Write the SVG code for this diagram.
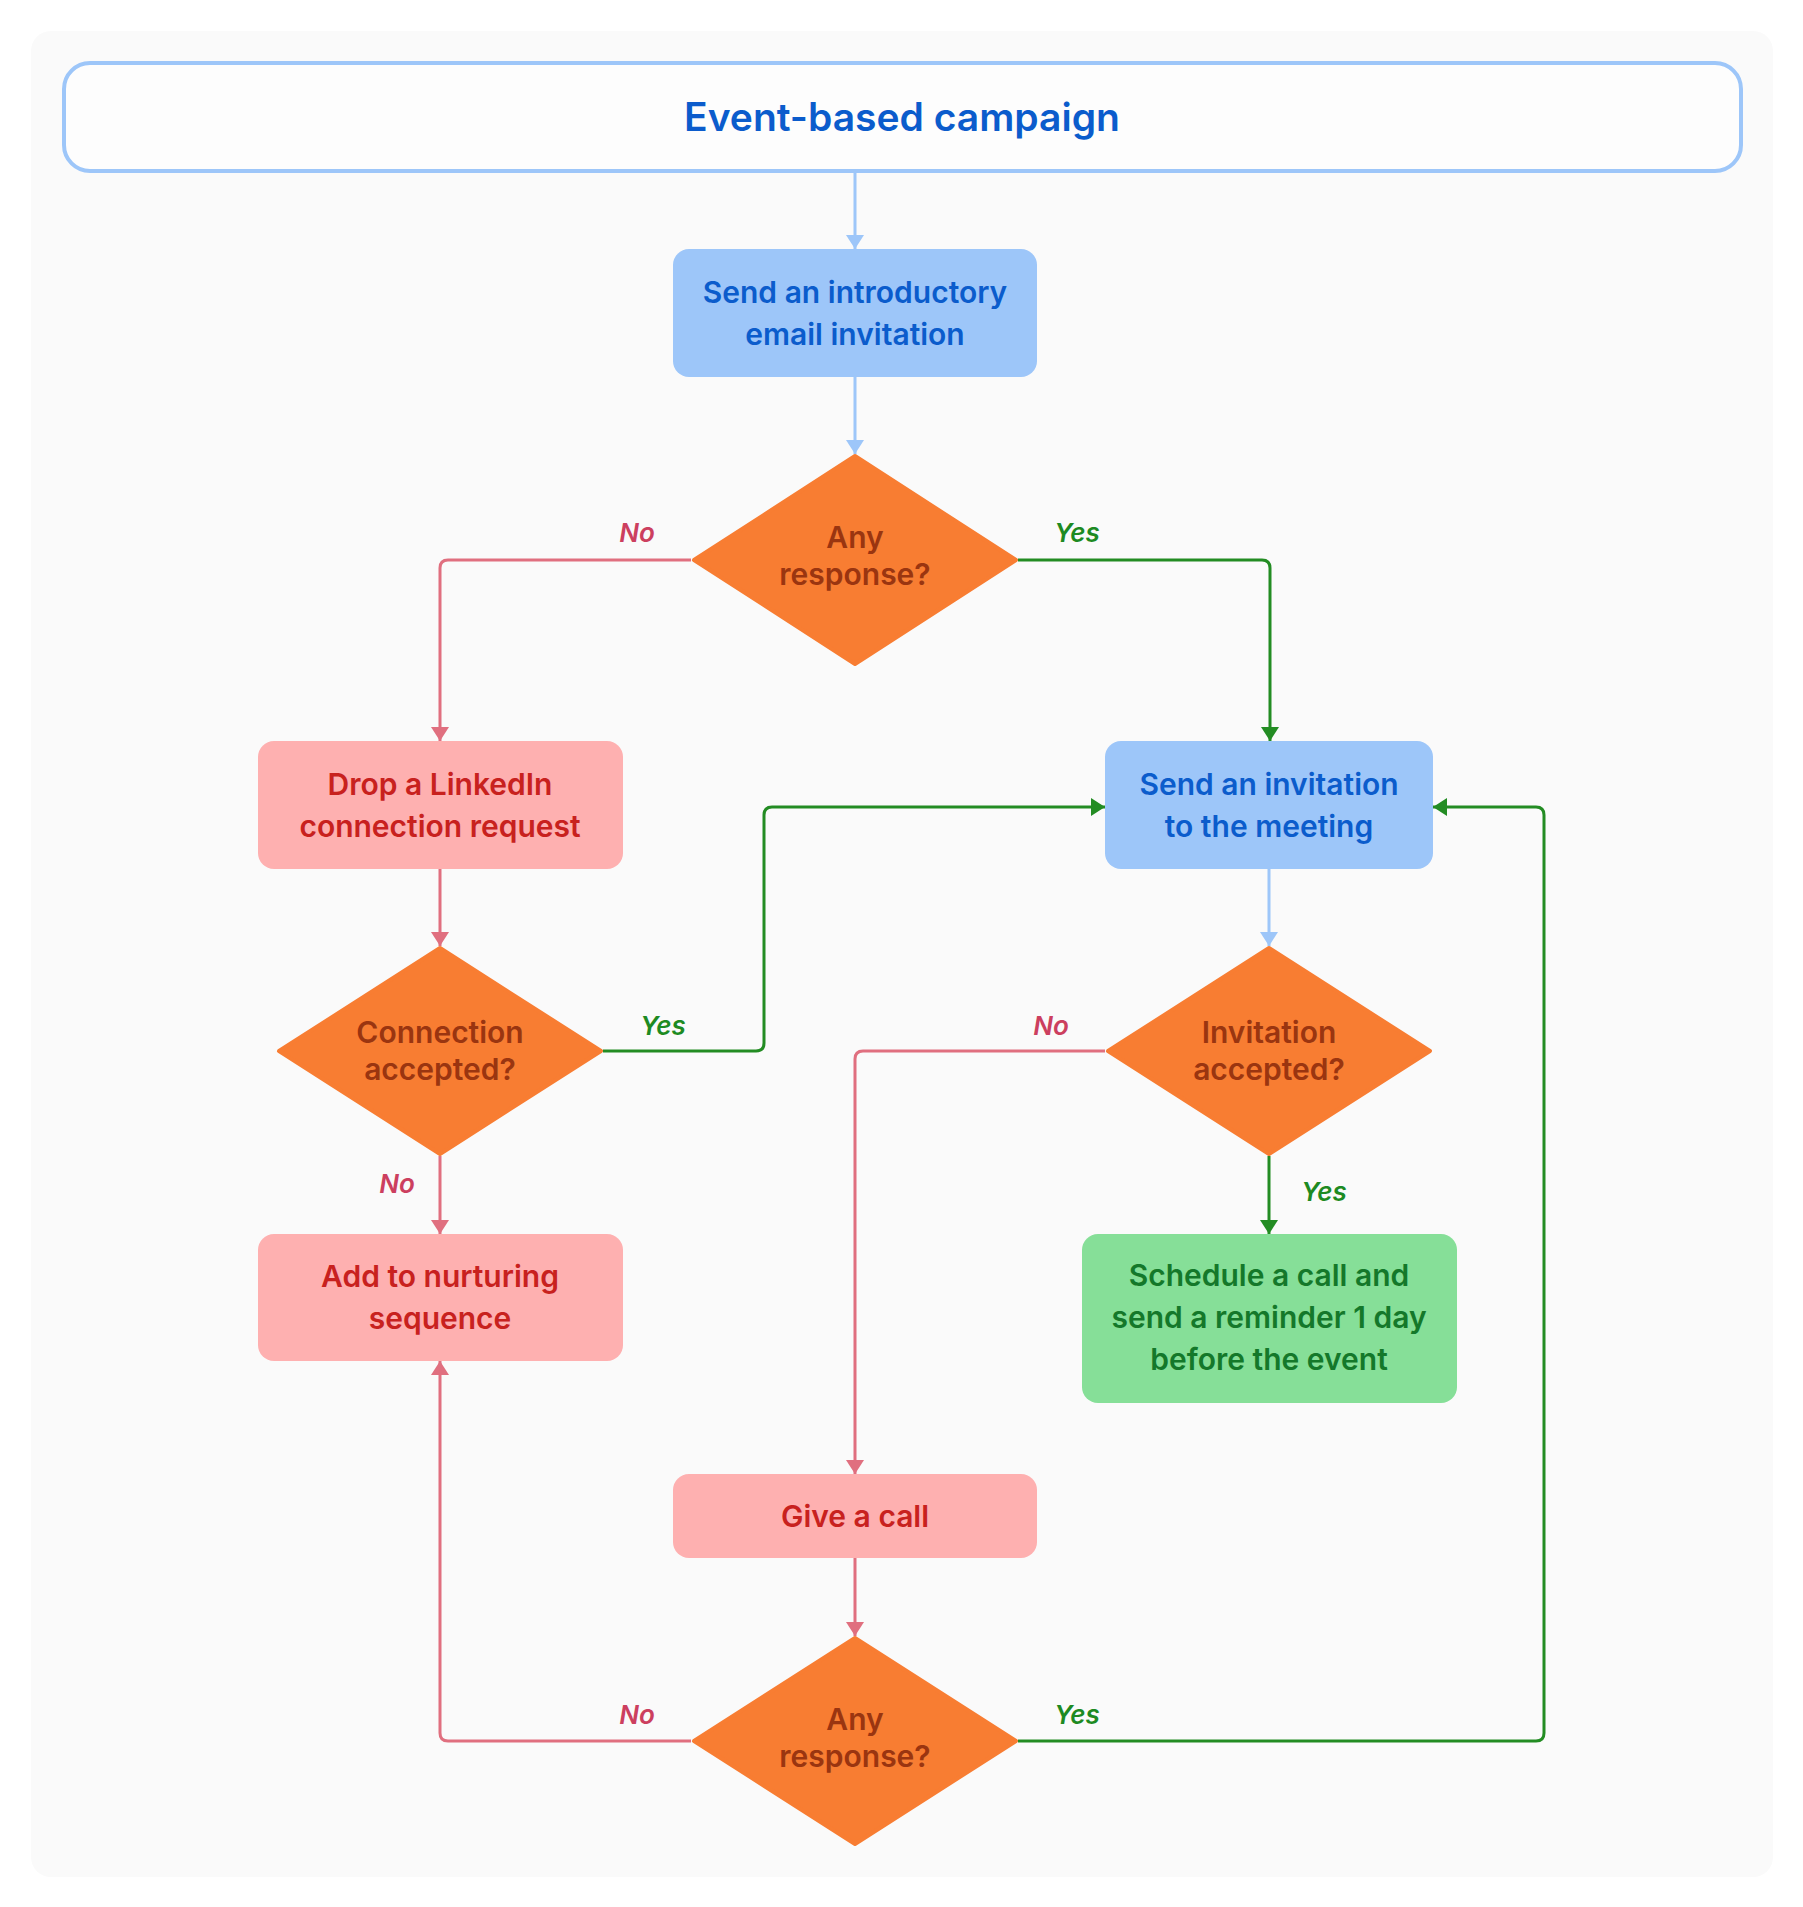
<svg xmlns="http://www.w3.org/2000/svg" width="1803" height="1907" viewBox="0 0 1803 1907">
<defs>
<style>
.t{font-family:Inter,"Noto Sans","Liberation Sans",sans-serif;font-weight:600;text-anchor:middle}
.nt{font-size:30px}
.blue{fill:#0b5ccc}
.red{fill:#c8211e}
.grn{fill:#14782a}
.brn{fill:#9a3510}
.lbl{font-size:26px;font-style:italic}
.lno{fill:#cc3f5f}
.lyes{fill:#1d8a22}
.bbox{fill:#9dc6f9}
.pbox{fill:#feb0b0}
.gbox{fill:#86df98}
.dia{fill:#f87d32;stroke:#f87d32;stroke-width:4;stroke-linejoin:round}
.c{fill:none;stroke-width:3}
.cb{stroke:#9dc6f9}
.cp{stroke:#e06f7f}
.cg{stroke:#238c23}
</style>
<marker id="ab" markerUnits="userSpaceOnUse" markerWidth="18" markerHeight="18" viewBox="0 0 14 18" refX="14" refY="9" orient="auto"><path d="M0,0 L14,9 L0,18 Z" fill="#9dc6f9"/></marker>
<marker id="ap" markerUnits="userSpaceOnUse" markerWidth="18" markerHeight="18" viewBox="0 0 14 18" refX="14" refY="9" orient="auto"><path d="M0,0 L14,9 L0,18 Z" fill="#e06f7f"/></marker>
<marker id="ag" markerUnits="userSpaceOnUse" markerWidth="18" markerHeight="18" viewBox="0 0 14 18" refX="14" refY="9" orient="auto"><path d="M0,0 L14,9 L0,18 Z" fill="#238c23"/></marker>
</defs>
<rect x="0" y="0" width="1803" height="1907" fill="#ffffff"/>
<rect x="31" y="31" width="1742" height="1846" rx="20" fill="#fafafa"/>

<g id="connectors">
<path class="c cb" d="M855,173 V249" marker-end="url(#ab)"/>
<path class="c cb" d="M855,377 V454" marker-end="url(#ab)"/>
<path class="c cp" d="M691,560 H448 Q440,560 440,568 V741" marker-end="url(#ap)"/>
<path class="c cg" d="M1018,560 H1262 Q1270,560 1270,568 V741" marker-end="url(#ag)"/>
<path class="c cp" d="M440,869 V946" marker-end="url(#ap)"/>
<path class="c cg" d="M603,1051 H756 Q764,1051 764,1043 V815 Q764,807 772,807 H1105" marker-end="url(#ag)"/>
<path class="c cb" d="M1269,869 V946" marker-end="url(#ab)"/>
<path class="c cp" d="M1105,1051 H863 Q855,1051 855,1059 V1474" marker-end="url(#ap)"/>
<path class="c cp" d="M440,1156 V1234" marker-end="url(#ap)"/>
<path class="c cg" d="M1269,1156 V1234" marker-end="url(#ag)"/>
<path class="c cp" d="M855,1558 V1636" marker-end="url(#ap)"/>
<path class="c cp" d="M691,1741 H448 Q440,1741 440,1733 V1361" marker-end="url(#ap)"/>
<path class="c cg" d="M1018,1741 H1536 Q1544,1741 1544,1733 V815 Q1544,807 1536,807 H1433" marker-end="url(#ag)"/>
</g>

<g id="labels">
<text class="t lbl lno" x="637" y="542">No</text>
<text class="t lbl lyes" x="1077" y="542">Yes</text>
<text class="t lbl lyes" x="663" y="1035">Yes</text>
<text class="t lbl lno" x="1051" y="1035">No</text>
<text class="t lbl lno" x="397" y="1193">No</text>
<text class="t lbl lyes" x="1324" y="1201">Yes</text>
<text class="t lbl lno" x="637" y="1724">No</text>
<text class="t lbl lyes" x="1077" y="1724">Yes</text>
</g>

<g id="title">
<rect x="64" y="63" width="1677" height="108" rx="26" fill="#fdfdfd" stroke="#9dc6f9" stroke-width="4"/>
<text class="t blue" x="902" y="131" font-size="39">Event-based campaign</text>
</g>

<g id="n1">
<rect class="bbox" x="673" y="249" width="364" height="128" rx="16"/>
<text class="t nt blue" x="855" y="303">Send an introductory</text>
<text class="t nt blue" x="855" y="345">email invitation</text>
</g>

<g id="d1">
<polygon class="dia" points="855,456 1016,560 855,664 694,560"/>
<text class="t nt brn" x="855" y="548">Any</text>
<text class="t nt brn" x="855" y="585">response?</text>
</g>

<g id="drop">
<rect class="pbox" x="258" y="741" width="365" height="128" rx="16"/>
<text class="t nt red" x="440" y="795">Drop a LinkedIn</text>
<text class="t nt red" x="440" y="837">connection request</text>
</g>

<g id="invite">
<rect class="bbox" x="1105" y="741" width="328" height="128" rx="16"/>
<text class="t nt blue" x="1269" y="795">Send an invitation</text>
<text class="t nt blue" x="1269" y="837">to the meeting</text>
</g>

<g id="d2">
<polygon class="dia" points="440,948 601,1051 440,1154 279,1051"/>
<text class="t nt brn" x="440" y="1043">Connection</text>
<text class="t nt brn" x="440" y="1080">accepted?</text>
</g>

<g id="d3">
<polygon class="dia" points="1269,948 1430,1051 1269,1154 1108,1051"/>
<text class="t nt brn" x="1269" y="1043">Invitation</text>
<text class="t nt brn" x="1269" y="1080">accepted?</text>
</g>

<g id="add">
<rect class="pbox" x="258" y="1234" width="365" height="127" rx="16"/>
<text class="t nt red" x="440" y="1287">Add to nurturing</text>
<text class="t nt red" x="440" y="1329">sequence</text>
</g>

<g id="schedule">
<rect class="gbox" x="1082" y="1234" width="375" height="169" rx="16"/>
<text class="t nt grn" x="1269" y="1286">Schedule a call and</text>
<text class="t nt grn" x="1269" y="1328">send a reminder 1 day</text>
<text class="t nt grn" x="1269" y="1370">before the event</text>
</g>

<g id="call">
<rect class="pbox" x="673" y="1474" width="364" height="84" rx="16"/>
<text class="t nt red" x="855" y="1527">Give a call</text>
</g>

<g id="d4">
<polygon class="dia" points="855,1638 1016,1741 855,1844 694,1741"/>
<text class="t nt brn" x="855" y="1730">Any</text>
<text class="t nt brn" x="855" y="1767">response?</text>
</g>
</svg>
